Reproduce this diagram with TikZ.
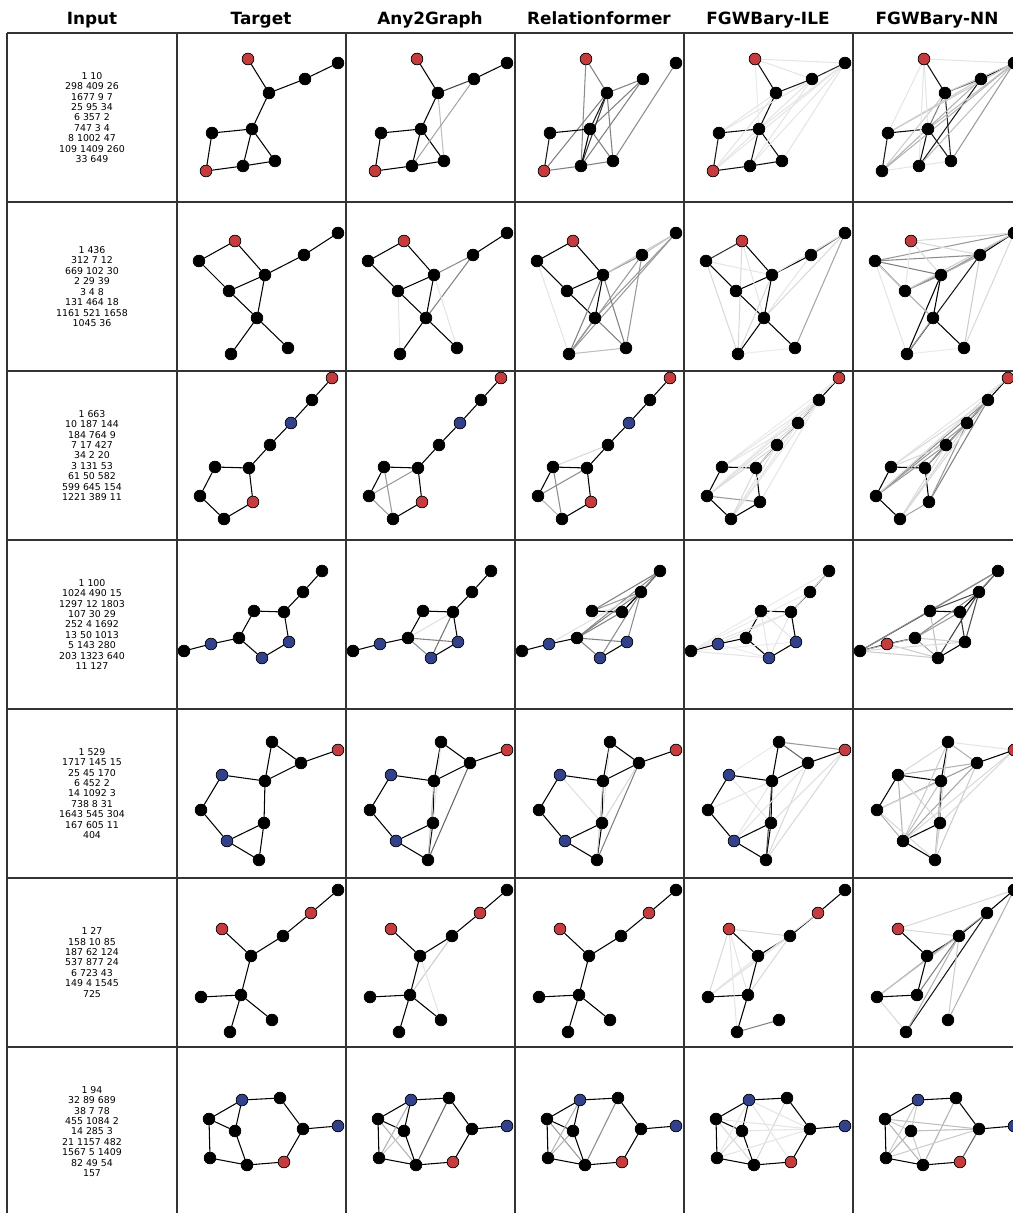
\documentclass[tikz,border=0pt]{standalone}
\usepackage{fontspec}
\setmainfont{DejaVu Sans}
\usetikzlibrary{backgrounds}

\definecolor{nK}{RGB}{0,0,0}
\definecolor{nR}{RGB}{196,60,62}
\definecolor{nB}{RGB}{50,66,138}

\tikzset{
  atom/.style={circle, draw=black, line width=0.4pt, inner sep=0pt, minimum size=0.235cm},
  bond/.style={line width=0.6pt, draw=black!#1},
  gridline/.style={line width=0.6pt, draw=black!80},
  header/.style={anchor=base, font=\fontsize{9.6}{11}\selectfont\bfseries},
  smiles/.style={align=center, font=\fontsize{5.35}{5.95}\selectfont},
}

% one molecule: prefix, node list (macro), bond list
\newcommand{\drawmol}[3]{%
  \foreach \x/\y/\col/\n in #2 {
    \node[atom, fill=\col] (#1\n) at (\x,\y) {};
  }
  \begin{scope}[on background layer]
    \foreach \u/\v/\g in {#3} {
      \draw[bond=\g] (#1\u) -- (#1\v);
    }
  \end{scope}%
}

% node layouts
\newcommand{\molAnodes}{71/26/nR/a, 161/30/nK/b, 128/46/nK/c, 92/60/nK/d, 75/96/nK/e, 35/100/nK/f, 29/138/nR/g, 66/133/nK/h, 98/128/nK/i}
\newcommand{\molAnn}{71/26/nR/a, 161/30/nK/b, 128/46/nK/c, 92/60/nK/d, 75/96/nK/e, 35/100/nK/f, 29/138/nK/g, 66/133/nK/h, 98/128/nK/i}
\newcommand{\molBnodes}{58/39/nR/a, 22/59/nK/b, 88/73/nK/c, 52/89/nK/d, 127/53/nK/e, 161/31/nK/f, 80/116/nK/g, 54/152/nK/h, 111/146/nK/i}
\newcommand{\molCnodes}{155/7/nR/a, 135/29/nK/b, 114/52/nB/c, 93/74/nK/d, 72/97/nK/e, 38/96/nK/f, 23/125/nK/g, 47/148/nK/h, 76/131/nR/i}
\newcommand{\molCplain}{155/7/nR/a, 135/29/nK/b, 114/52/nK/c, 93/74/nK/d, 72/97/nK/e, 38/96/nK/f, 23/125/nK/g, 47/148/nK/h, 76/131/nK/i}
\newcommand{\molDnodes}{145/31/nK/a, 126/52/nK/b, 107/72/nK/c, 77/71/nK/d, 62/98/nK/e, 34/104/nB/f, 7/111/nK/g, 85/118/nB/h, 112/102/nB/i}
\newcommand{\molDnn}{145/31/nK/a, 126/52/nK/b, 107/72/nK/c, 77/71/nK/d, 62/98/nK/e, 34/104/nR/f, 7/111/nK/g, 85/118/nK/h, 112/102/nK/i}
\newcommand{\molEnodes}{95/33/nK/a, 161/41/nR/b, 124/54/nK/c, 45/66/nB/d, 88/72/nK/e, 24/101/nK/f, 87/114/nK/g, 50/132/nB/h, 82/151/nK/i}
\newcommand{\molEnn}{95/33/nK/a, 161/41/nR/b, 124/54/nK/c, 45/66/nK/d, 88/72/nK/e, 24/101/nK/f, 87/114/nK/g, 50/132/nK/h, 82/151/nK/i}
\newcommand{\molFnodes}{161/12/nK/a, 134/35/nR/b, 106/58/nK/c, 45/51/nR/d, 74/78/nK/e, 64/117/nK/f, 24/119/nK/g, 95/142/nK/h, 53/154/nK/i}
\newcommand{\molFnn}{161/12/nK/a, 134/35/nK/b, 106/58/nK/c, 45/51/nR/d, 74/78/nK/e, 64/117/nK/f, 24/119/nK/g, 95/142/nK/h, 53/154/nK/i}
\newcommand{\molGnodes}{65/53/nB/a, 103/51/nK/b, 32/72/nK/c, 58/84/nK/d, 126/82/nK/e, 161/79/nB/f, 33/111/nK/g, 70/118/nK/h, 107/115/nR/i}

\begin{document}
\begin{tikzpicture}[x=0.02cm, y=-0.02cm]
  \useasboundingbox (0,0) rectangle (1013,1213);

  % column titles
  \node[header] (hIn) at (92,25) {Input};
  \node[header] (hTa) at (261,25) {Target};
  \node[header] (hAn) at (430,25) {Any2Graph};
  \node[header] (hRe) at (599,25) {Relationformer};
  \node[header] (hIl) at (768,25) {FGWBary-ILE};
  \node[header] (hNn) at (937,25) {FGWBary-NN};

  % table rules
  \foreach \gx in {7,177,346,515,684,853}
    \draw[gridline] (\gx,33) -- (\gx,1213);
  \foreach \gy in {33,202,371,540,709,878,1047}
    \draw[gridline] (7,\gy) -- (1013,\gy);

  % inputs
  \node[smiles] (in1) at (92,117.5) {1 10\\298 409 26\\1677 9 7\\25 95 34\\6 357 2\\747 3 4\\8 1002 47\\109 1409 260\\33 649};
  \node[smiles] (in2) at (92,286.5) {1 436\\312 7 12\\669 102 30\\2 29 39\\3 4 8\\131 464 18\\1161 521 1658\\1045 36};
  \node[smiles] (in3) at (92,455.5) {1 663\\10 187 144\\184 764 9\\7 17 427\\34 2 20\\3 131 53\\61 50 582\\599 645 154\\1221 389 11};
  \node[smiles] (in4) at (92,624.5) {1 100\\1024 490 15\\1297 12 1803\\107 30 29\\252 4 1692\\13 50 1013\\5 143 280\\203 1323 640\\11 127};
  \node[smiles] (in5) at (92,793.5) {1 529\\1717 145 15\\25 45 170\\6 452 2\\14 1092 3\\738 8 31\\1643 545 304\\167 605 11\\404};
  \node[smiles] (in6) at (92,962.5) {1 27\\158 10 85\\187 62 124\\537 877 24\\6 723 43\\149 4 1545\\725};
  \node[smiles] (in7) at (92,1131.5) {1 94\\32 89 689\\38 7 78\\455 1084 2\\14 285 3\\21 1157 482\\1567 5 1409\\82 49 54\\157};

  % row 1
  \begin{scope}[shift={(177,33)}]
    \drawmol{r1t}{\molAnodes}{a/d/100, d/c/100, c/b/100, d/e/100, e/f/100, f/g/100, g/h/100, h/i/100, e/h/100, e/i/100}
  \end{scope}
  \begin{scope}[shift={(346,33)}]
    \drawmol{r1a}{\molAnodes}{a/d/100, d/c/75, c/b/100, d/e/100, e/f/100, f/g/100, g/h/100, h/i/100, e/h/100, e/i/100, d/i/25, c/h/35}
  \end{scope}
  \begin{scope}[shift={(515,33)}]
    \drawmol{r1r}{\molAnodes}{a/d/50, a/h/45, d/c/50, c/e/50, c/h/50, b/i/45, d/e/90, d/h/80, d/i/50, g/d/50, e/f/100, f/g/90, g/h/50, h/i/50, e/i/50, e/h/100}
  \end{scope}
  \begin{scope}[shift={(684,33)}]
    \drawmol{r1i}{\molAnodes}{a/d/95, d/c/90, c/b/85, d/e/95, e/f/95, f/g/90, g/h/95, h/i/95, e/h/95, e/i/95, a/b/10, a/c/10, g/c/10, g/b/10, f/c/10, e/b/10, h/b/10, i/b/10, g/d/10, h/c/10, f/d/10, a/e/8}
  \end{scope}
  \begin{scope}[shift={(853,33)}]
    \drawmol{r1n}{\molAnn}{a/d/95, d/c/60, c/b/95, d/i/85, e/f/95, f/g/90, e/h/95, e/i/90, h/c/90, d/e/50, g/c/30, g/b/30, f/b/20, g/d/20, f/c/20, e/b/25, a/b/10, a/e/10, a/f/10, a/h/10, h/b/25, i/b/40, d/b/20, g/i/10}
  \end{scope}

  % row 2
  \begin{scope}[shift={(177,202)}]
    \drawmol{r2t}{\molBnodes}{a/b/100, a/c/100, b/d/100, d/c/100, c/e/100, e/f/100, c/g/100, d/g/100, g/h/100, g/i/100}
  \end{scope}
  \begin{scope}[shift={(346,202)}]
    \drawmol{r2a}{\molBnodes}{a/b/100, a/c/100, b/d/100, d/c/100, c/e/45, e/f/100, c/g/100, d/g/100, g/h/100, g/i/100, e/g/50, d/h/10, c/i/10}
  \end{scope}
  \begin{scope}[shift={(515,202)}]
    \drawmol{r2r}{\molBnodes}{a/b/100, a/c/100, b/d/100, d/c/100, c/e/40, c/g/100, d/g/100, g/h/50, g/i/50, f/h/40, f/g/40, e/h/40, e/i/40, c/h/50, c/i/50, h/i/25, e/f/25, b/h/10, c/f/20}
  \end{scope}
  \begin{scope}[shift={(684,202)}]
    \drawmol{r2i}{\molBnodes}{a/b/80, a/c/100, b/d/100, d/c/100, c/e/100, e/f/60, c/g/100, d/g/100, g/h/100, g/i/100, f/i/35, a/h/15, b/h/15, b/c/10, c/f/10, e/g/10, a/g/10, h/i/8, c/h/15, f/g/15}
  \end{scope}
  \begin{scope}[shift={(853,202)}]
    \drawmol{r2n}{\molBnodes}{b/f/40, b/e/45, b/c/50, b/d/100, d/c/45, d/e/40, e/f/100, c/g/100, c/h/100, e/h/90, g/i/100, g/h/40, a/f/15, a/e/15, a/c/15, a/d/10, c/f/40, d/f/20, b/g/15, b/h/10, g/d/30, e/i/20, f/i/15, h/i/8, c/e/30}
  \end{scope}

  % row 3
  \begin{scope}[shift={(177,371)}]
    \drawmol{r3t}{\molCnodes}{a/b/100, b/c/100, c/d/100, d/e/100, e/f/100, f/g/100, g/h/100, h/i/100, i/e/100}
  \end{scope}
  \begin{scope}[shift={(346,371)}]
    \drawmol{r3a}{\molCnodes}{a/b/100, b/c/100, c/d/100, d/e/100, e/f/100, f/g/100, g/h/40, h/i/100, i/e/100, f/h/40, g/e/40}
  \end{scope}
  \begin{scope}[shift={(515,371)}]
    \drawmol{r3r}{\molCnodes}{a/b/100, b/c/100, c/d/100, d/e/100, e/f/100, f/g/100, g/h/30, h/i/100, i/e/100, f/h/45, g/e/45, f/d/15}
  \end{scope}
  \begin{scope}[shift={(684,371)}]
    \drawmol{r3i}{\molCplain}{a/b/100, b/c/100, c/d/100, d/e/100, e/f/100, f/g/100, g/h/100, h/i/100, i/e/100, g/i/40, g/b/12, g/c/12, g/d/15, h/b/10, h/c/10, h/d/12, f/a/8, f/b/10, g/a/8, e/b/10, i/b/10, f/c/10, h/e/15}
  \end{scope}
  \begin{scope}[shift={(853,371)}]
    \drawmol{r3n}{\molCplain}{a/b/100, b/c/100, c/d/100, b/d/60, d/e/100, e/f/100, f/g/100, g/h/100, h/i/35, i/e/100, g/b/45, g/c/40, g/d/40, e/b/35, i/b/50, i/c/40, f/b/15, f/a/10, g/a/15, h/b/15, h/c/15, h/d/15, e/c/40, f/d/15}
  \end{scope}

  % row 4
  \begin{scope}[shift={(177,540)}]
    \drawmol{r4t}{\molDnodes}{a/b/100, b/c/100, c/d/100, d/e/100, e/f/100, f/g/100, e/h/100, h/i/100, i/c/100}
  \end{scope}
  \begin{scope}[shift={(346,540)}]
    \drawmol{r4a}{\molDnodes}{a/b/100, b/c/100, c/d/100, d/e/100, e/f/100, f/g/100, e/h/45, h/i/100, i/c/100, e/i/50, c/h/55, e/c/12}
  \end{scope}
  \begin{scope}[shift={(515,540)}]
    \drawmol{r4r}{\molDnodes}{a/b/100, a/c/50, a/d/50, a/e/45, b/c/100, d/c/100, b/e/50, c/e/50, b/h/45, e/f/100, f/g/100, e/h/50, h/i/100, e/i/50, f/b/12, i/b/45, b/d/40}
  \end{scope}
  \begin{scope}[shift={(684,540)}]
    \drawmol{r4i}{\molDnodes}{a/b/100, b/c/100, c/d/100, d/e/100, e/f/100, f/g/100, e/h/100, h/i/100, i/c/100, g/c/10, g/h/10, g/i/8, f/h/8, g/a/8, g/b/8, f/c/10, h/d/10, a/c/10, d/i/10, h/c/10}
  \end{scope}
  \begin{scope}[shift={(853,540)}]
    \drawmol{r4n}{\molDnn}{a/b/100, a/d/45, a/c/50, b/c/100, b/d/70, d/c/100, b/e/45, b/h/75, c/e/40, e/f/100, f/g/100, g/d/80, g/a/45, g/h/20, e/h/35, h/i/100, i/b/70, i/c/80, g/e/30, f/h/20, d/h/25, e/i/20, g/i/15}
  \end{scope}

  % row 5
  \begin{scope}[shift={(177,709)}]
    \drawmol{r5t}{\molEnodes}{a/e/100, a/c/100, c/b/100, c/e/100, d/e/100, d/f/100, f/h/100, h/g/100, g/e/100, g/i/100, h/i/100}
  \end{scope}
  \begin{scope}[shift={(346,709)}]
    \drawmol{r5a}{\molEnodes}{a/e/100, a/c/100, c/b/100, c/e/100, d/e/100, d/f/100, f/h/100, h/g/100, g/e/100, g/i/90, h/i/100, c/i/60, e/i/25, a/g/10}
  \end{scope}
  \begin{scope}[shift={(515,709)}]
    \drawmol{r5r}{\molEnodes}{a/e/100, a/c/100, c/b/100, c/e/100, d/e/100, d/f/100, f/h/100, h/g/100, g/e/100, g/i/100, h/i/100, c/i/50, d/g/12, e/i/20, a/g/10, c/g/15}
  \end{scope}
  \begin{scope}[shift={(684,709)}]
    \drawmol{r5i}{\molEnodes}{a/b/40, a/e/100, a/c/60, c/b/100, c/e/100, d/e/100, d/f/100, f/h/100, h/g/100, g/e/100, g/i/100, h/i/100, e/i/70, c/i/15, b/i/15, b/g/12, f/e/10, d/g/10, a/d/8, h/e/10, c/h/10}
  \end{scope}
  \begin{scope}[shift={(853,709)}]
    \drawmol{r5n}{\molEnn}{a/e/100, a/c/30, c/b/100, d/e/100, d/f/100, f/h/30, h/g/100, e/g/100, g/i/20, h/i/100, d/c/30, f/c/40, c/h/35, a/b/10, a/d/15, d/g/15, d/h/30, f/i/15, h/e/25, c/i/20, b/g/15, b/h/15, e/i/30, f/e/15, a/h/20, a/i/15}
  \end{scope}

  % row 6
  \begin{scope}[shift={(177,878)}]
    \drawmol{r6t}{\molFnodes}{a/b/100, b/c/100, c/e/100, d/e/100, e/f/100, f/g/100, f/h/100, f/i/100}
  \end{scope}
  \begin{scope}[shift={(346,878)}]
    \drawmol{r6a}{\molFnodes}{a/b/100, b/c/100, c/e/100, d/e/100, e/f/100, f/g/100, f/h/100, f/i/100, c/f/20, e/h/10}
  \end{scope}
  \begin{scope}[shift={(515,878)}]
    \drawmol{r6r}{\molFnodes}{a/b/100, b/c/100, c/e/100, d/e/100, e/f/100, f/g/100, f/h/100, f/i/100}
  \end{scope}
  \begin{scope}[shift={(684,878)}]
    \drawmol{r6i}{\molFnodes}{a/b/100, b/c/100, c/e/100, d/e/100, e/f/100, f/g/100, f/i/100, h/i/50, d/c/15, d/g/15, d/f/10, g/c/10, d/i/10, g/e/10, g/b/10, c/f/15}
  \end{scope}
  \begin{scope}[shift={(853,878)}]
    \drawmol{r6n}{\molFnn}{a/b/100, b/c/100, c/e/100, d/e/100, e/f/100, f/g/100, b/i/90, c/f/50, g/b/40, d/a/15, d/c/15, g/c/20, i/c/30, h/c/20, g/i/15, h/a/30}
  \end{scope}

  % row 7
  \begin{scope}[shift={(177,1047)}]
    \drawmol{r7t}{\molGnodes}{a/b/100, b/e/100, e/f/100, e/i/100, i/h/100, h/g/100, g/c/100, c/a/100, c/d/100, d/a/100, d/h/100}
  \end{scope}
  \begin{scope}[shift={(346,1047)}]
    \drawmol{r7a}{\molGnodes}{a/b/100, b/e/100, e/f/100, e/i/100, i/h/100, h/g/100, g/c/100, c/a/100, c/d/100, d/a/100, d/h/100, b/h/60, c/h/30, g/a/30, g/d/20}
  \end{scope}
  \begin{scope}[shift={(515,1047)}]
    \drawmol{r7r}{\molGnodes}{a/b/100, b/e/100, e/f/100, e/i/100, i/h/100, h/g/100, g/c/100, c/a/100, c/d/100, d/a/100, d/h/100, b/h/45, c/h/40, g/a/30, g/d/30}
  \end{scope}
  \begin{scope}[shift={(684,1047)}]
    \drawmol{r7i}{\molGnodes}{a/b/100, b/e/100, e/f/100, e/i/100, i/h/100, h/g/100, g/c/100, c/a/100, c/d/100, d/a/100, d/h/100, b/h/15, c/h/15, g/a/10, g/d/15, a/e/10, c/e/10, d/e/10, g/e/10, a/i/10}
  \end{scope}
  \begin{scope}[shift={(853,1047)}]
    \drawmol{r7n}{\molGnodes}{a/b/100, b/e/100, e/f/100, e/i/60, i/h/100, h/g/100, g/c/100, c/a/100, c/d/20, d/a/20, d/h/20, b/h/30, c/h/30, g/a/20, g/d/30, c/e/25, d/e/25, g/e/20}
  \end{scope}
\end{tikzpicture}
\end{document}
